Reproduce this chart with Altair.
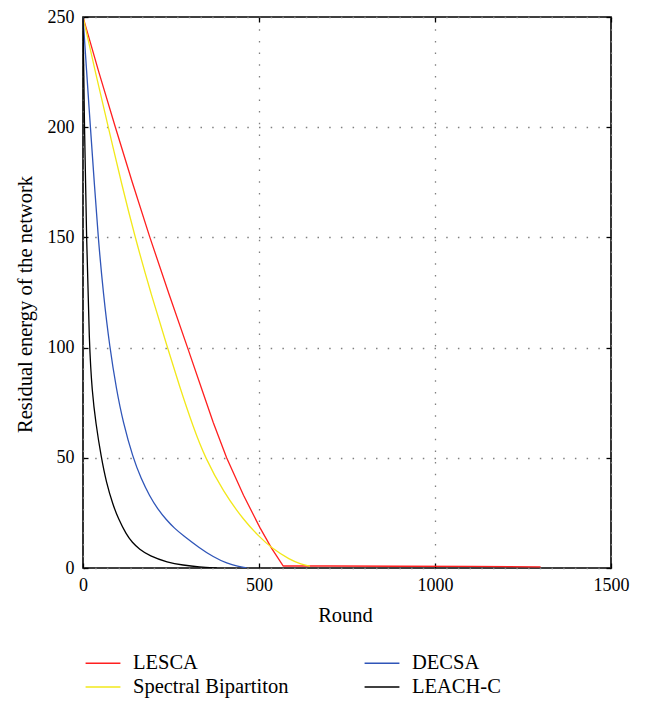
import altair as alt
import pandas as pd

# ---- data ----
x_ticks = [0, 500, 1000, 1500]
y_ticks = [0, 50, 100, 150, 200, 250]

# legend is laid out column by column: (LESCA, Spectral) then (DECSA, LEACH-C)
series_names = ["LESCA", "Spectral Bipartiton", "DECSA", "LEACH-C"]
series_colors = ["#ff1f1f", "#f2e81a", "#2f55b8", "#000000"]

lesca_round = [0, 45, 92, 140, 190, 245, 297, 340, 370, 408, 456, 503, 536, 569, 700, 900, 1100, 1300]
lesca_val = [250, 225, 200, 175, 150, 124, 100, 80, 66, 50, 33, 18.2, 8.9, 0.9, 0.9, 0.8, 0.7, 0.5]

spectral_round = [0, 35, 72, 110, 148, 192, 240, 275, 313, 347, 399, 456, 503, 536, 588, 620, 645]
spectral_val = [250, 225, 200, 174, 150, 125, 100, 82, 64, 50, 34.5, 21.8, 13.8, 9, 3.7, 1.7, 0.8]

decsa_round = [0, 10, 21, 32, 43, 58, 76, 95, 114, 142, 165, 189, 212, 237, 260, 284, 330, 370, 410, 440, 465]
decsa_val = [250, 226, 200, 175, 150, 124, 100, 81, 66, 50, 40.5, 32.7, 26.8, 21.8, 18.0, 14.8, 9.2, 5.0, 2.0, 0.7, 0]

leach_round = [0, 4, 10, 18, 26, 36, 52, 66, 85, 100, 123, 140, 160, 189, 240, 284, 330, 380]
leach_val = [250, 200, 150, 100, 80, 66, 50, 39, 28.7, 22.5, 15.2, 11.6, 8.5, 5.5, 2.5, 1.3, 0.5, 0]

# ---- tables ----
def frame(name, rounds, vals):
    return pd.DataFrame({"Round": rounds, "Energy": vals, "Series": name})

red_df = frame("LESCA", lesca_round, lesca_val)
curve_df = pd.concat([
    frame("Spectral Bipartiton", spectral_round, spectral_val),
    frame("DECSA", decsa_round, decsa_val),
    frame("LEACH-C", leach_round, leach_val),
])
corner_df = pd.DataFrame({"Round": [x_ticks[0], x_ticks[-1]], "Energy": [y_ticks[0], y_ticks[-1]]})

FONT = "Liberation Serif"
W, H = 528, 551

xscale = alt.Scale(domain=[x_ticks[0], x_ticks[-1]], nice=False, zero=False)
yscale = alt.Scale(domain=[y_ticks[0], y_ticks[-1]], nice=False)

color = alt.Color(
    "Series:N",
    scale=alt.Scale(domain=series_names, range=series_colors),
    sort=series_names,
    legend=alt.Legend(
        orient="none", legendX=9, legendY=635, columns=2, columnPadding=72,
        rowPadding=2, symbolType="M-1.7,0H1.7", symbolSize=420, symbolStrokeWidth=1.3,
        labelFont=FONT, labelFontSize=20.5, labelColor="black", labelLimit=0,
        labelOffset=19, title=None, padding=0,
    ),
)

main_x = alt.Axis(
    values=x_ticks, format="d", title="Round", grid=True, gridDash=[1.5, 10.2], gridColor="#808080",
    gridWidth=1.3, ticks=False, tickSize=0, domain=False, labelPadding=8,
    labelFont=FONT, labelFontSize=18, labelColor="black", labelFlush=False,
    titleFont=FONT, titleFontSize=20.5, titleFontWeight="normal", titleColor="black",
    titleX=262, titleY=47, titleBaseline="middle", titleAlign="center",
)
main_y = alt.Axis(
    values=y_ticks, format="d", title="Residual energy of the network", grid=True, gridDash=[1.5, 10.2],
    gridColor="#808080", gridWidth=1.3, ticks=False, tickSize=0, domain=False, labelPadding=9,
    labelFont=FONT, labelFontSize=18, labelColor="black", labelFlush=False,
    titleFont=FONT, titleFontSize=20.5, titleFontWeight="normal", titleColor="black",
    titleX=-58, titleY=287, titleBaseline="middle", titleAlign="center", titleAngle=-90,
)

red_layer = alt.Chart(red_df).mark_line(strokeWidth=1.3, clip=True).encode(
    x=alt.X("Round:Q", scale=xscale, axis=main_x),
    y=alt.Y("Energy:Q", scale=yscale, axis=main_y),
    color=color,
)
curve_layer = alt.Chart(curve_df).mark_line(strokeWidth=1.3, interpolate="basis", clip=True).encode(
    x=alt.X("Round:Q", scale=xscale, axis=None),
    y=alt.Y("Energy:Q", scale=yscale, axis=None),
    color=color,
    order=alt.Order("Round:Q"),
)

def tick_axis(orient, offset, vals):
    return alt.Axis(orient=orient, offset=offset, values=vals, labels=False, ticks=True,
                    tickSize=5, tickColor="black", tickWidth=1.3, domain=False, grid=False, title=None)

hidden1 = alt.Chart(corner_df).mark_point(opacity=0).encode(
    x=alt.X("Round:Q", scale=xscale, axis=tick_axis("top", -H, x_ticks)),
    y=alt.Y("Energy:Q", scale=yscale, axis=tick_axis("right", -W, y_ticks)),
)
hidden2 = alt.Chart(corner_df).mark_point(opacity=0).encode(
    x=alt.X("Round:Q", scale=xscale, axis=tick_axis("bottom", -H, x_ticks)),
    y=alt.Y("Energy:Q", scale=yscale, axis=tick_axis("left", -W, y_ticks)),
)

chart = alt.layer(red_layer, curve_layer, hidden1, hidden2).resolve_axis(
    x="independent", y="independent"
).properties(
    width=W, height=H,
    autosize=alt.AutoSizeParams(type="none"),
    padding={"left": 75, "top": 9, "right": 30, "bottom": 136},
).configure_view(stroke="black", strokeWidth=1.6)

chart.save("out.html", embed_options={"renderer": "svg", "actions": False})
